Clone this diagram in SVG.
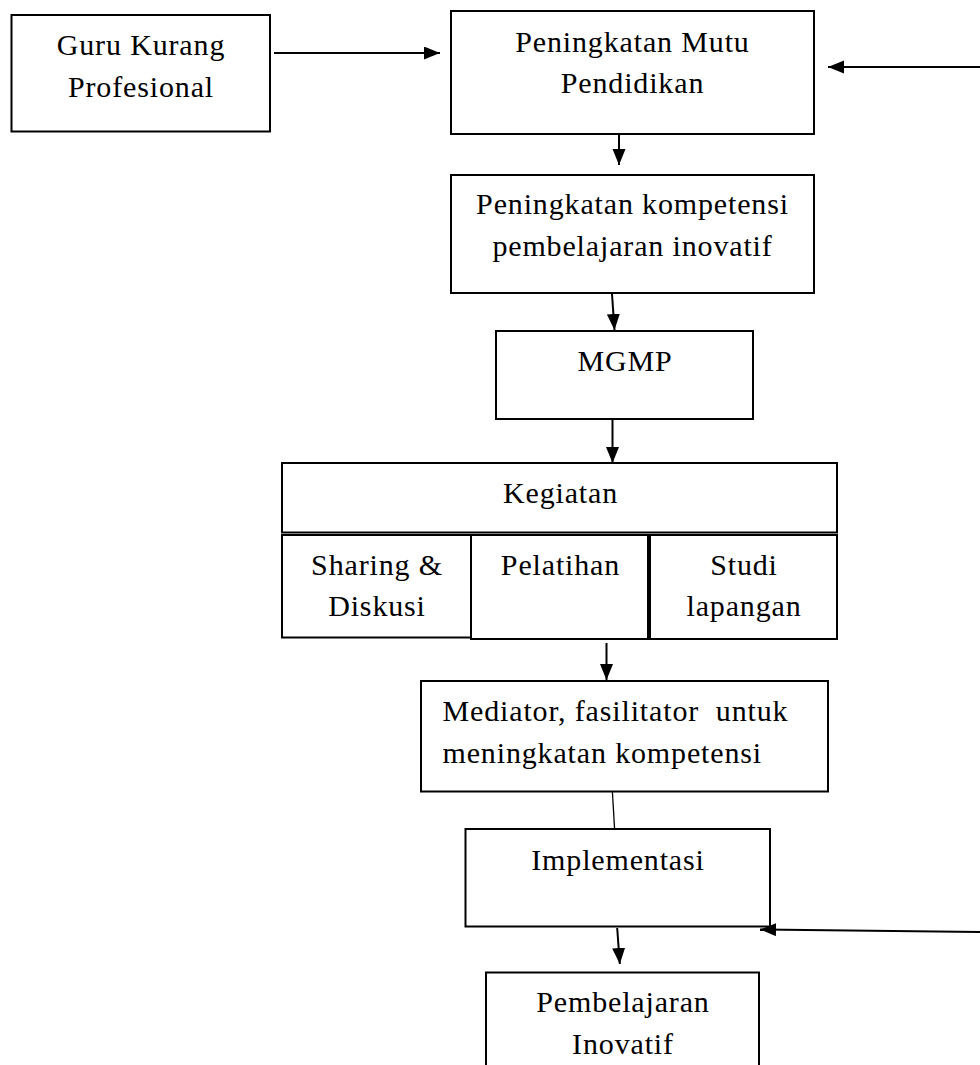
<svg xmlns="http://www.w3.org/2000/svg" width="980" height="1065" viewBox="0 0 980 1065">
<style>
  .box { fill: #ffffff; stroke: #000000; stroke-width: 2; }
  .t { font-family: "Liberation Serif", "Times New Roman", serif; font-size: 30px; letter-spacing: 0.85px; fill: #000000; }
  .c { text-anchor: middle; }
  .con { stroke: #000000; stroke-width: 2; fill: none; }
  .thin { stroke: #000000; stroke-width: 1.3; fill: none; }
</style>
<defs>
  <marker id="ah" markerUnits="userSpaceOnUse" markerWidth="17" markerHeight="14" refX="16" refY="6.5" orient="auto">
    <path d="M0,0 L16,6.5 L0,13 z" fill="#000000"/>
  </marker>
</defs>
<rect width="980" height="1065" fill="#ffffff"/>

<g id="connectors">
  <line class="con" x1="274" y1="53" x2="440" y2="53" marker-end="url(#ah)"/>
  <line class="con" x1="980" y1="67" x2="828" y2="67" marker-end="url(#ah)"/>
  <line class="con" x1="619" y1="135" x2="619" y2="165" marker-end="url(#ah)"/>
  <line class="con" x1="612" y1="294" x2="614.5" y2="330" marker-end="url(#ah)"/>
  <line class="con" x1="612.5" y1="420" x2="612.5" y2="463" marker-end="url(#ah)"/>
  <line class="con" x1="606.5" y1="643" x2="606.5" y2="680" marker-end="url(#ah)"/>
  <line class="thin" x1="612.4" y1="792" x2="614.6" y2="829"/>
  <line class="con" x1="980" y1="932" x2="760" y2="929.5" marker-end="url(#ah)"/>
  <line class="con" x1="617.2" y1="928" x2="619.8" y2="964" marker-end="url(#ah)"/>
</g>

<g id="n-guru">
  <rect class="box" x="11.5" y="15" width="258.5" height="116.5"/>
  <text class="t c" x="141" y="55">Guru Kurang</text>
  <text class="t c" x="141" y="96.5">Profesional</text>
</g>

<g id="n-mutu">
  <rect class="box" x="451" y="11" width="363" height="123"/>
  <text class="t c" x="632.5" y="52">Peningkatan Mutu</text>
  <text class="t c" x="632.5" y="93">Pendidikan</text>
</g>

<g id="n-kompetensi">
  <rect class="box" x="451" y="175" width="363" height="118"/>
  <text class="t c" x="632.5" y="213.5">Peningkatan kompetensi</text>
  <text class="t c" x="632.5" y="255.5">pembelajaran inovatif</text>
</g>

<g id="n-mgmp">
  <rect class="box" x="496" y="331" width="257" height="88"/>
  <text class="t c" x="625" y="371">MGMP</text>
</g>

<g id="n-kegiatan">
  <rect class="box" x="282" y="463" width="555" height="69.5"/>
  <text class="t c" x="560.5" y="503">Kegiatan</text>
</g>

<g id="n-sharing">
  <rect class="box" x="282" y="535" width="189" height="102.5"/>
  <text class="t c" x="377" y="575">Sharing &amp;</text>
  <text class="t c" x="377" y="616">Diskusi</text>
</g>

<g id="n-pelatihan">
  <rect class="box" x="471" y="535" width="177" height="104"/>
  <text class="t c" x="560.5" y="575">Pelatihan</text>
</g>

<g id="n-studi">
  <rect class="box" x="650" y="535" width="187" height="104"/>
  <text class="t c" x="744" y="575">Studi</text>
  <text class="t c" x="744" y="616">lapangan</text>
</g>

<g id="n-mediator">
  <rect class="box" x="421" y="681" width="407" height="110.5"/>
  <text class="t" x="442.5" y="721" xml:space="preserve">Mediator, fasilitator  untuk</text>
  <text class="t" x="442.5" y="762.5">meningkatan kompetensi</text>
</g>

<g id="n-implementasi">
  <rect class="box" x="465.5" y="829" width="304.5" height="97.5"/>
  <text class="t c" x="618" y="869.5">Implementasi</text>
</g>

<g id="n-pembelajaran">
  <rect class="box" x="486" y="972.5" width="273" height="110"/>
  <text class="t c" x="623" y="1012">Pembelajaran</text>
  <text class="t c" x="623" y="1053.5">Inovatif</text>
</g>
</svg>
